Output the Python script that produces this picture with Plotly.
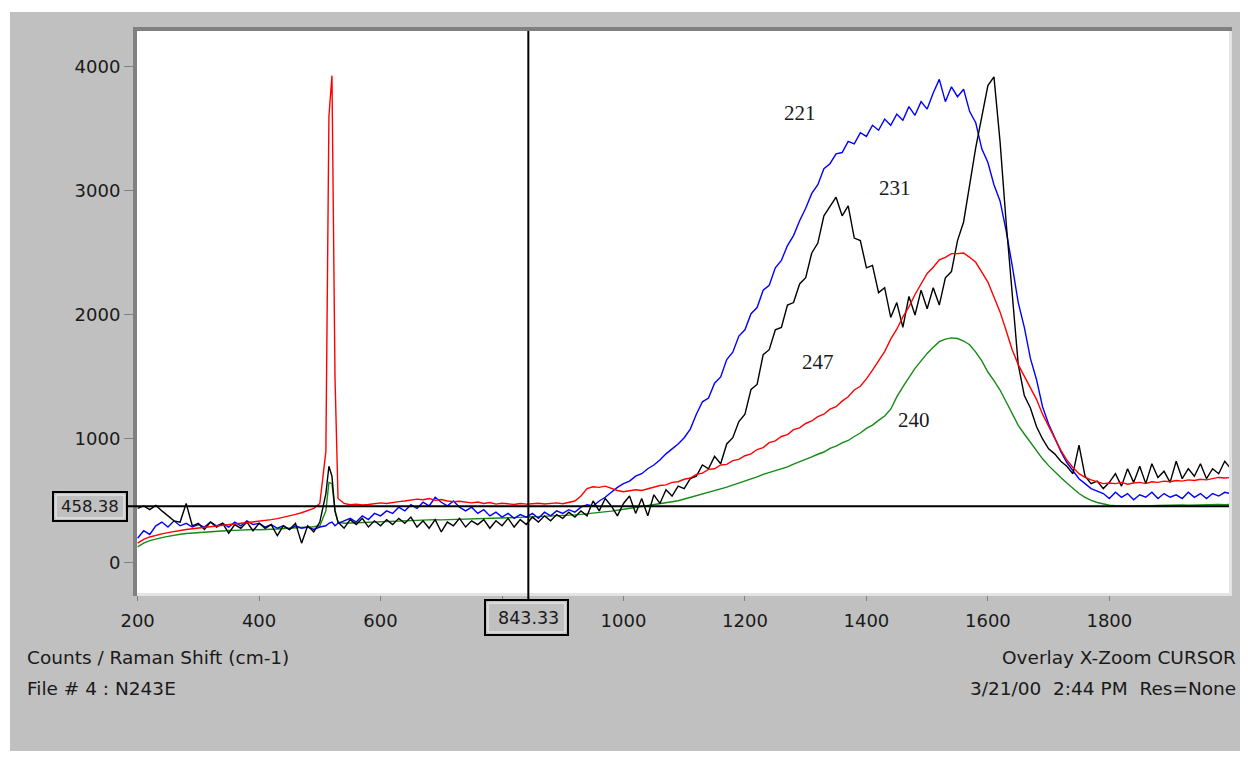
import plotly.graph_objects as go

# ---------------- data ----------------
# Raman shift grid (cm-1): 10 cm-1 steps with a finer stretch over the 520 cm-1 Si line
WAVE = list(range(200, 510, 10)) + [510, 515, 520, 525, 530] + list(range(540, 2001, 10))

SPEC_240_GREEN = [
    130, 160, 180, 195, 205, 215, 225, 232, 238, 242,
    245, 250, 252, 256, 258, 262, 263, 266, 268, 270,
    268, 272, 275, 274, 278, 280, 282, 284, 288, 292,
    300,
    420, 650, 640, 420, 330,
    320, 322, 326, 328, 330, 332, 334, 335, 336, 338,
    340, 342, 345, 346, 348, 350, 348, 350, 352, 354,
    355, 356, 358, 360, 360, 362, 363, 365, 366, 368,
    370, 372, 372, 374, 376, 378, 380, 384, 388, 392,
    396, 400, 405, 410, 418, 425, 432, 440, 448, 455,
    462, 470, 478, 486, 494, 502, 515, 528, 540, 555,
    570, 585, 598, 612, 628, 645, 660, 675, 695, 715,
    730, 745, 762, 775, 797, 815, 836, 855, 877, 895,
    925, 942, 968, 988, 1020, 1048, 1085, 1112, 1150, 1185,
    1240, 1340, 1420, 1500, 1570, 1630, 1690, 1740, 1785, 1805,
    1815, 1810, 1790, 1760, 1700, 1630, 1540, 1470, 1395, 1300,
    1200, 1110, 1040, 970, 900, 840, 785, 735, 690, 645,
    600, 560, 530, 505, 488, 475, 466, 462, 460, 462,
    460, 462, 465, 462, 464, 466, 463, 466, 468, 466,
    468, 470, 468, 470, 472, 470, 472,
]

SPEC_247_RED = [
    160, 190, 210, 225, 235, 245, 255, 262, 270, 276,
    282, 290, 295, 300, 306, 310, 316, 320, 325, 330,
    335, 342, 350, 358, 368, 380, 392, 405, 420, 440,
    480,
    900, 3600, 3930, 1500, 520,
    480, 470, 475, 468, 472, 478, 485, 480, 490, 495,
    500, 505, 515, 510, 520, 505, 512, 500, 495, 498,
    490, 485, 492, 480, 488, 475, 482, 478, 472, 480,
    475, 478, 482, 476, 480, 485, 478, 490, 500, 540,
    600, 615, 610, 620, 600, 585, 575, 580, 590, 585,
    600, 610, 625, 630, 650, 655, 675, 685, 715, 725,
    755, 760, 790, 795, 825, 835, 865, 880, 915, 930,
    970, 985, 1020, 1035, 1075, 1090, 1125, 1145, 1180, 1200,
    1240, 1260, 1305, 1340, 1395, 1425, 1485, 1555, 1635, 1705,
    1805, 1885, 1985, 2065, 2165, 2245, 2335, 2385, 2445, 2465,
    2495, 2495, 2500, 2465, 2425, 2345, 2265, 2145, 2025, 1875,
    1720, 1600, 1510, 1420, 1320, 1200, 1100, 1000, 910, 830,
    770, 720, 690, 670, 655, 640, 645, 640, 650, 635,
    645, 650, 640, 655, 650, 660, 655, 665, 660, 670,
    665, 675, 670, 680, 690, 685, 690,
]

SPEC_221_BLUE = [
    200, 260, 230, 300, 330, 290, 340, 300, 320, 290,
    310, 290, 330, 300, 320, 290, 330, 300, 340, 310,
    320, 290, 310, 280, 300, 270, 300, 280, 290, 270,
    290,
    300, 320, 330, 300, 320,
    340, 360, 330, 380, 350, 400, 380, 420, 400, 450,
    420, 470, 440, 490, 460, 530, 490, 460, 500, 450,
    420, 450, 400, 430, 380, 410, 370, 400, 360, 390,
    370, 400, 360, 410, 380, 420, 400, 430, 410, 450,
    470, 460, 500, 530, 570, 610, 640, 660, 700, 720,
    760, 790, 830, 880, 920, 960, 1010, 1080, 1200, 1300,
    1330, 1450, 1500, 1640, 1700, 1830, 1880, 2010, 2060, 2200,
    2240, 2380, 2440, 2560, 2640, 2760, 2860, 2980, 3050, 3180,
    3220, 3300, 3310, 3400, 3380, 3470, 3440, 3530, 3490, 3580,
    3530, 3620, 3570, 3680, 3610, 3720, 3660, 3790, 3900, 3720,
    3840, 3760, 3820, 3640, 3550, 3340, 3230, 3050, 2920, 2680,
    2400, 2100, 1900, 1650, 1480, 1260, 1120, 1010, 900, 810,
    740, 680, 640, 600, 580, 560, 520, 570, 530, 560,
    510, 550, 530, 570, 520, 560, 530, 550, 520, 570,
    530, 560, 520, 560, 540, 570, 560,
]

SPEC_231_BLACK = [
    440, 460, 430, 465, 420, 380, 340, 330, 480, 300,
    320, 270, 330, 290, 320, 240, 310, 280, 330, 260,
    320, 280, 310, 220, 300, 270, 320, 160, 300, 250,
    330,
    560, 780, 700, 420, 330,
    280, 350, 310, 360, 290, 340, 300, 350, 310, 360,
    320, 370, 290, 340, 280, 350, 250, 330, 300, 360,
    290, 340, 310, 350, 280, 340, 300, 360, 290, 350,
    310, 370, 330, 380, 340, 390, 360, 410, 370, 420,
    380, 500, 420, 520, 460, 380, 480, 540, 400, 520,
    380, 550, 480, 590, 540, 620, 600, 680, 700, 790,
    760, 860, 800, 960, 1010, 1140, 1200, 1400, 1440, 1680,
    1720, 1880, 1900, 2080, 2100, 2250, 2300, 2500, 2580, 2800,
    2880, 2950, 2800, 2880, 2620, 2600, 2380, 2400, 2180, 2220,
    1980, 2100, 1900, 2150, 2000, 2200, 2050, 2220, 2080, 2300,
    2350, 2600, 2750, 3050, 3350, 3600, 3850, 3920, 3400, 2750,
    2150, 1600, 1350, 1250, 1100, 1000, 920, 880, 820, 780,
    720, 950, 700, 640, 660, 600, 650, 720, 620, 760,
    650, 780, 640, 800, 690, 740, 650, 820, 680, 760,
    700, 800, 680, 760, 720, 820, 760,
]

SERIES = [
    ("240", SPEC_240_GREEN, "#138a13"),
    ("221", SPEC_221_BLUE, "#0000ff"),
    ("231", SPEC_231_BLACK, "#000000"),
    ("247", SPEC_247_RED, "#ff0000"),
]

CURVE_LABELS = ["221", "231", "247", "240"]
CURVE_LABEL_X = [1290, 1447, 1320, 1478]
CURVE_LABEL_Y = [3630, 3025, 1620, 1153]

X_TICKS = [200, 400, 600, 800, 1000, 1200, 1400, 1600, 1800]
X_TICK_TEXT = ["200", "400", "600", "", "1000", "1200", "1400", "1600", "1800"]
Y_TICKS = [0, 1000, 2000, 3000, 4000]

CURSOR_X = 843.33
CURSOR_Y = 458.38

for _n, _s, _c in SERIES:
    assert len(_s) == len(WAVE), (_n, len(_s), len(WAVE))

# ---------------- layout geometry (screen pixels) ----------------
OFF = 8                          # page body margin that offsets the figure
SW, SH = 1248, 759               # browser window
W, H = SW - 2 * OFF, SH - 2 * OFF  # figure size (no page overflow / scrollbars)
PL, PR, PT, PB = 137, 1229, 31, 593  # plot-area box in screen pixels


def px_x(px):
    return (px - PL) / (PR - PL)


def px_y(py):
    return (PB - py) / (PB - PT)


BG = "#c0c0c0"
TXT = "#1a1a1a"
FONT = "DejaVu Sans, Verdana, sans-serif"

fig = go.Figure()
for name, ys, color in SERIES:
    fig.add_trace(go.Scatter(x=WAVE, y=ys, mode="lines", name=name,
                             line=dict(color=color, width=1.4), hoverinfo="skip"))

shapes = []
# white outer margin (top + left) of the screenshot
shapes.append(dict(type="rect", xref="paper", yref="paper", x0=px_x(0), x1=px_x(10),
                   y0=px_y(SH + 5), y1=px_y(0), fillcolor="white", line=dict(width=0), layer="below"))
shapes.append(dict(type="rect", xref="paper", yref="paper", x0=px_x(0), x1=px_x(SW + 5),
                   y0=px_y(12), y1=px_y(0), fillcolor="white", line=dict(width=0), layer="below"))
# sunken frame: dark top/left, light bottom/right
shapes.append(dict(type="rect", xref="paper", yref="paper", x0=px_x(133), x1=px_x(PL),
                   y0=px_y(596), y1=px_y(27), fillcolor="#808080", line=dict(width=0)))
shapes.append(dict(type="rect", xref="paper", yref="paper", x0=px_x(133), x1=px_x(1232),
                   y0=px_y(PT), y1=px_y(27), fillcolor="#808080", line=dict(width=0)))
shapes.append(dict(type="rect", xref="paper", yref="paper", x0=px_x(PR), x1=px_x(1232),
                   y0=px_y(596), y1=px_y(PT), fillcolor="#e4e4e4", line=dict(width=0)))
shapes.append(dict(type="rect", xref="paper", yref="paper", x0=px_x(PL), x1=px_x(1232),
                   y0=px_y(596), y1=px_y(PB), fillcolor="#e4e4e4", line=dict(width=0)))
# cursor lines
shapes.append(dict(type="line", xref="x", yref="paper", x0=CURSOR_X, x1=CURSOR_X,
                   y0=px_y(600), y1=1, line=dict(color="black", width=2)))
shapes.append(dict(type="line", xref="paper", yref="y", x0=px_x(127), x1=1,
                   y0=CURSOR_Y, y1=CURSOR_Y, line=dict(color="black", width=2)))
# cursor value boxes
for (x0, x1, y0, y1) in [(53, 127, 492, 521), (485, 568, 600, 635)]:
    shapes.append(dict(type="rect", xref="paper", yref="paper", x0=px_x(x0), x1=px_x(x1),
                       y0=px_y(y1), y1=px_y(y0), fillcolor=BG, line=dict(color="black", width=2)))
    shapes.append(dict(type="rect", xref="paper", yref="paper", x0=px_x(x0 + 3), x1=px_x(x1 - 3),
                       y0=px_y(y1 - 3), y1=px_y(y0 + 3), fillcolor=BG, line=dict(color="#f2f2f2", width=1)))

annotations = []
for t, x, y in zip(CURVE_LABELS, CURVE_LABEL_X, CURVE_LABEL_Y):
    annotations.append(dict(text=t, x=x, y=y, xref="x", yref="y", showarrow=False,
                            font=dict(family="Times New Roman, Liberation Serif, serif", size=21, color=TXT)))
annotations.append(dict(text=f"{CURSOR_Y:.2f}", x=px_x(90), y=CURSOR_Y, xref="paper", yref="y",
                        xanchor="center", yanchor="middle",
                        showarrow=False, font=dict(family=FONT, size=16.5, color=TXT)))
annotations.append(dict(text=f"{CURSOR_X:.2f}", x=CURSOR_X, y=px_y(618), xref="x", yref="paper",
                        xanchor="center", yanchor="middle",
                        showarrow=False, font=dict(family=FONT, size=17.5, color=TXT)))
for txt, xpx, ypx, anchor in [
    ("Counts / Raman Shift (cm-1)", 25, 657, "left"),
    ("File # 4 : N243E", 25, 688, "left"),
    ("Overlay X-Zoom CURSOR", 1238, 657, "right"),
    ("3/21/00  2:44 PM  Res=None", 1238, 688, "right"),
]:
    annotations.append(dict(text=txt.replace("  ", "&nbsp; "), x=px_x(xpx), y=px_y(ypx),
                            xref="paper", yref="paper", xanchor=anchor, yanchor="middle",
                            showarrow=False, font=dict(family=FONT, size=18.5, color=TXT)))

fig.update_layout(
    width=W, height=H,
    margin=dict(l=PL - OFF, r=W - (PR - OFF), t=PT - OFF, b=H - (PB - OFF), pad=0),
    paper_bgcolor=BG, plot_bgcolor="white",
    showlegend=False,
    shapes=shapes, annotations=annotations,
    xaxis=dict(range=[199, 1997], tickvals=X_TICKS, ticktext=X_TICK_TEXT,
               ticks="outside", ticklen=7, tickcolor="#808080", tickwidth=1,
               showgrid=False, zeroline=False, showline=False, ticklabelstandoff=4,
               tickfont=dict(family=FONT, size=18, color=TXT)),
    yaxis=dict(range=[-242, 4290], tickvals=Y_TICKS,
               ticks="outside", ticklen=12, tickcolor="#808080", tickwidth=1,
               showgrid=False, zeroline=False, showline=False,
               tickfont=dict(family=FONT, size=18, color=TXT)),
)

fig.write_html("out.html")
